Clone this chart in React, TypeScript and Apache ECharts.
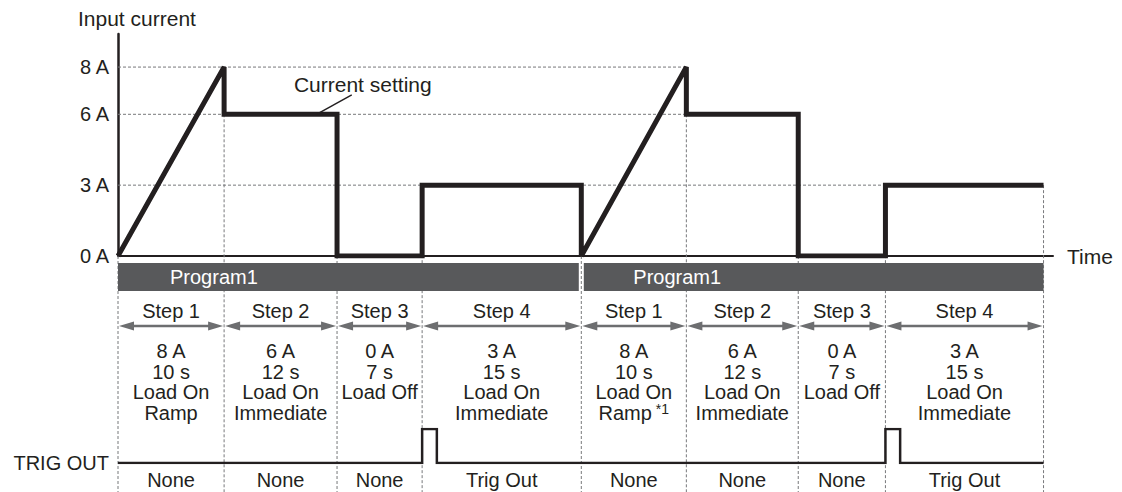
import React, { useEffect, useRef } from "react";
import * as echarts from "echarts";

// ---- data (schematic time positions of step boundaries, as drawn) ----
const stepEdges = [0, 10.1, 20.85, 28.95, 44.1, 54.1, 64.75, 73.05, 88.1];
const stepNames = ["Step 1", "Step 2", "Step 3", "Step 4", "Step 1", "Step 2", "Step 3", "Step 4"];
const stepCurrentA = [8, 6, 0, 3, 8, 6, 0, 3];
const stepDurations = ["10 s", "12 s", "7 s", "15 s", "10 s", "12 s", "7 s", "15 s"];
const stepLoad = ["Load On", "Load On", "Load Off", "Load On", "Load On", "Load On", "Load Off", "Load On"];
const stepMode = ["Ramp", "Immediate", "", "Immediate", "Ramp", "Immediate", "", "Immediate"];
const stepNote = ["", "", "", "", "*1", "", "", ""];
const stepTrig = ["None", "None", "None", "Trig Out", "None", "None", "None", "Trig Out"];
const programNames = ["Program1", "Program1"];
const programFirstStep = [0, 4];
const programLastStep = [3, 7];
const currentTicks = [0, 3, 6, 8];
const trigPulseWidth = 1.4;
const timeAxisMax = 89;
const currentAxisMax = 9.4;
const annotationText = "Current setting";
const annotationAnchor = [18.9, 6];
const annotationElbow = [22.25, 6.82];
const annotationLabelAt = [23.3, 7.28];

// ---- styles ----
const FONT = "'Liberation Sans', Arial, Helvetica, sans-serif";
const INK = "#231f20";
const GUIDE = "#77787b";
const ARROW = "#6d6e70";
const BAR = "#58595b";
const FS = 20;
const FS_TITLE = 21;

// ---- derived ----
const currentPoints: number[][] = [];
stepCurrentA.forEach((lvl, i) => {
  const s = stepEdges[i];
  const e = stepEdges[i + 1];
  if (stepMode[i] === "Ramp") currentPoints.push([s, 0], [e, lvl]);
  else currentPoints.push([s, lvl], [e, lvl]);
});

const levelGuides = currentTicks
  .filter((v) => v > 0)
  .map((L) => {
    let xEnd = 0;
    stepCurrentA.forEach((lvl, i) => {
      if (lvl === L) xEnd = Math.max(xEnd, stepMode[i] === "Ramp" ? stepEdges[i + 1] : stepEdges[i]);
    });
    return [[0, L], [xEnd, L]];
  });

const edgeGuides = stepEdges.map((x, i) => {
  let top = 0;
  if (i < stepCurrentA.length) top = stepMode[i] === "Ramp" ? 0 : stepCurrentA[i];
  else top = stepCurrentA[i - 1];
  return [x, top];
});

const trigPoints: number[][] = [[0, 0]];
stepTrig.forEach((t, i) => {
  if (t === "Trig Out") {
    const s = stepEdges[i];
    trigPoints.push([s, 0], [s, 1], [s + trigPulseWidth, 1], [s + trigPulseWidth, 0]);
  }
});
trigPoints.push([stepEdges[stepEdges.length - 1], 0]);

const programData = programNames.map((_, i) => [
  stepEdges[programFirstStep[i]],
  stepEdges[programLastStep[i] + 1],
  i,
]);
const stepData = stepNames.map((_, i) => [stepEdges[i], stepEdges[i + 1], i]);

function txt(x: number, y: number, text: string, extra: any = {}) {
  return {
    type: "text",
    x,
    y,
    style: {
      text,
      fill: INK,
      fontSize: FS,
      fontFamily: FONT,
      align: "center",
      verticalAlign: "middle",
      ...extra,
    },
  };
}

const option: any = {
  animation: false,
  backgroundColor: "#ffffff",
  textStyle: { fontFamily: FONT },
  grid: [
    { left: 118, top: 34, width: 935, height: 222 },
    { left: 118, top: 256, width: 935, height: 236 },
    { left: 118, top: 429, width: 935, height: 34 },
  ],
  xAxis: [
    {
      gridIndex: 0,
      type: "value",
      min: 0,
      max: timeAxisMax,
      name: "Time",
      nameLocation: "end",
      nameGap: 14,
      nameTextStyle: { fontSize: FS_TITLE, color: INK, fontFamily: FONT },
      axisLine: { show: true, onZero: false, lineStyle: { color: INK, width: 2 } },
      axisTick: { show: false },
      axisLabel: { show: false },
      splitLine: { show: false },
    },
    { gridIndex: 1, type: "value", min: 0, max: timeAxisMax, show: false },
    { gridIndex: 2, type: "value", min: 0, max: timeAxisMax, show: false },
  ],
  yAxis: [
    {
      gridIndex: 0,
      type: "value",
      min: 0,
      max: currentAxisMax,
      axisLine: { show: true, lineStyle: { color: INK, width: 2.5 } },
      axisTick: { show: false },
      splitLine: { show: false },
      axisLabel: {
        customValues: currentTicks,
        formatter: (v: number) => `${v} A`,
        fontSize: FS,
        color: INK,
        margin: 9,
        fontFamily: FONT,
      },
    },
    { gridIndex: 1, type: "value", min: 0, max: 1, show: false },
    {
      gridIndex: 2,
      type: "value",
      min: 0,
      max: 1,
      axisLine: { show: false },
      axisTick: { show: false },
      splitLine: { show: false },
      axisLabel: {
        customValues: [0],
        formatter: () => "TRIG OUT",
        fontSize: FS,
        color: INK,
        margin: 9,
        fontFamily: FONT,
      },
    },
  ],
  graphic: [
    {
      type: "text",
      left: 78,
      top: 8,
      style: { text: "Input current", fontSize: FS_TITLE, fill: INK, fontFamily: FONT },
    },
  ],
  series: [
    ...levelGuides.map((d) => ({
      type: "line",
      xAxisIndex: 0,
      yAxisIndex: 0,
      data: d,
      symbol: "none",
      silent: true,
      z: 1,
      lineStyle: { color: GUIDE, width: 1, type: [3, 2] },
    })),
    {
      type: "custom",
      xAxisIndex: 0,
      yAxisIndex: 0,
      data: edgeGuides,
      clip: false,
      silent: true,
      z: 1,
      renderItem: (params: any, api: any) => {
        const p = api.coord([api.value(0), api.value(1)]);
        return {
          type: "line",
          shape: { x1: p[0], y1: p[1], x2: p[0], y2: api.getHeight() },
          style: { stroke: GUIDE, lineWidth: 1, lineDash: [3, 2], fill: null },
        };
      },
    },
    {
      type: "custom",
      xAxisIndex: 1,
      yAxisIndex: 1,
      data: programData,
      clip: false,
      silent: true,
      z: 3,
      renderItem: (params: any, api: any) => {
        const x0 = api.coord([api.value(0), 0])[0];
        const x1 = api.coord([api.value(1), 0])[0];
        const i = api.value(2);
        const top = params.coordSys.y;
        const l = i > 0 ? 2.5 : 0;
        const r = i < programNames.length - 1 ? 2.5 : 0;
        return {
          type: "group",
          children: [
            {
              type: "rect",
              shape: { x: x0 + l, y: top + 7, width: x1 - r - x0 - l, height: 28 },
              style: { fill: BAR },
            },
            txt(x0 + 52, top + 21, programNames[i], { fill: "#ffffff", align: "left" }),
          ],
        };
      },
    },
    {
      type: "custom",
      xAxisIndex: 1,
      yAxisIndex: 1,
      data: stepData,
      clip: false,
      silent: true,
      z: 4,
      renderItem: (params: any, api: any) => {
        const x0 = api.coord([api.value(0), 0])[0];
        const x1 = api.coord([api.value(1), 0])[0];
        const i = api.value(2);
        const top = params.coordSys.y;
        const cx = (x0 + x1) / 2;
        const ay = top + 70;
        const children: any[] = [
          txt(cx, top + 55, stepNames[i]),
          {
            type: "line",
            shape: { x1: x0 + 8, y1: ay, x2: x1 - 8, y2: ay },
            style: { stroke: ARROW, lineWidth: 2.5 },
          },
          {
            type: "polygon",
            shape: { points: [[x0 + 1, ay], [x0 + 16, ay - 4.5], [x0 + 16, ay + 4.5]] },
            style: { fill: ARROW },
          },
          {
            type: "polygon",
            shape: { points: [[x1 - 1, ay], [x1 - 16, ay - 4.5], [x1 - 16, ay + 4.5]] },
            style: { fill: ARROW },
          },
          txt(cx, top + 95, `${stepCurrentA[i]} A`),
          txt(cx, top + 115.5, stepDurations[i]),
          txt(cx, top + 136, stepLoad[i]),
          txt(cx, top + 224, stepTrig[i]),
        ];
        if (stepMode[i]) {
          if (stepNote[i]) {
            children.push(
              txt(cx, top + 156.5, `${stepMode[i]}{sup|${stepNote[i]}}`, {
                rich: {
                  sup: { fontSize: 14, fill: INK, fontFamily: FONT, padding: [0, 0, 7, 4] },
                },
              })
            );
          } else {
            children.push(txt(cx, top + 156.5, stepMode[i]));
          }
        }
        return { type: "group", children };
      },
    },
    {
      type: "line",
      xAxisIndex: 0,
      yAxisIndex: 0,
      data: currentPoints,
      symbol: "none",
      silent: true,
      z: 5,
      lineStyle: { color: INK, width: 5, join: "miter", miterLimit: 2 },
    },
    {
      type: "custom",
      xAxisIndex: 0,
      yAxisIndex: 0,
      data: [[annotationAnchor[0], annotationAnchor[1], annotationElbow[0], annotationElbow[1], annotationLabelAt[0], annotationLabelAt[1]]],
      clip: false,
      silent: true,
      z: 6,
      renderItem: (params: any, api: any) => {
        const a = api.coord([api.value(0), api.value(1)]);
        const b = api.coord([api.value(2), api.value(3)]);
        const t = api.coord([api.value(4), api.value(5)]);
        return {
          type: "group",
          children: [
            {
              type: "line",
              shape: { x1: a[0], y1: a[1], x2: b[0], y2: b[1] },
              style: { stroke: INK, lineWidth: 1.5 },
            },
            txt(t[0], t[1], annotationText, { fontSize: FS_TITLE }),
          ],
        };
      },
    },
    {
      type: "line",
      xAxisIndex: 2,
      yAxisIndex: 2,
      data: trigPoints,
      symbol: "none",
      silent: true,
      z: 5,
      lineStyle: { color: INK, width: 2.5, join: "miter" },
    },
  ],
};

export default function App() {
  const ref = useRef<HTMLDivElement>(null);
  useEffect(() => {
    const chart = echarts.init(ref.current!, null, { renderer: "svg" });
    chart.setOption(option);
    return () => chart.dispose();
  }, []);
  return (
    <div
      ref={ref}
      style={{ position: "absolute", left: 0, top: 0, width: 1122, height: 492, background: "#fff" }}
    />
  );
}
